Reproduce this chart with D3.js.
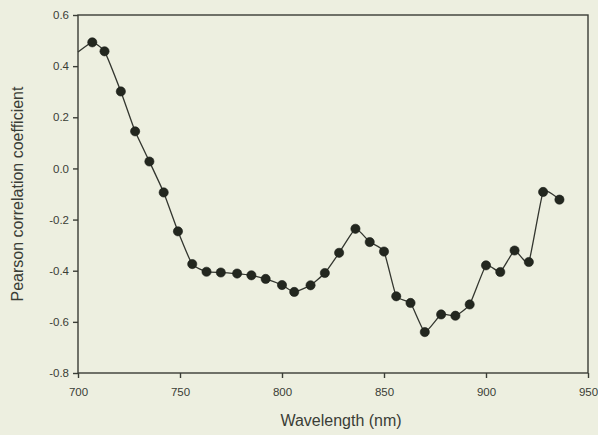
<!DOCTYPE html>
<meta charset="utf-8">
<style>
body { margin: 0; background: #edefe0; }
svg { display: block; background: #edefe0; }
.axis text { font-family: Arial, "Liberation Sans", sans-serif; font-size: 11.5px; fill: #3a3d36; }
.axis path, .axis line { stroke: #3a3d36; stroke-width: 1.4px; }
.title { font-family: Arial, "Liberation Sans", sans-serif; font-size: 16px; fill: #3a3d36; }
</style>
<svg width="598" height="435"></svg>
<script src="https://d3js.org/d3.v7.min.js"></script>
<script>

// wavelength (nm) and Pearson r
var wavelength = [700, 707, 713, 721, 728, 735, 742, 749, 756, 763, 770, 778, 785, 792, 800, 806,
                  814, 821, 828, 836, 843, 850, 856, 863, 870, 878, 885, 892, 900, 907, 914, 921, 928, 936];
var pearson = [0.455, 0.493, 0.458, 0.301, 0.145, 0.027, -0.094, -0.246, -0.374, -0.404, -0.407, -0.411,
               -0.418, -0.432, -0.456, -0.483, -0.457, -0.409, -0.330, -0.236, -0.288, -0.325, -0.500,
               -0.526, -0.640, -0.571, -0.576, -0.532, -0.379, -0.405, -0.321, -0.366, -0.092, -0.122];
var xTicks = [700, 750, 800, 850, 900, 950];
var yTicks = [-0.8, -0.6, -0.4, -0.2, 0.0, 0.2, 0.4, 0.6];

var svg = d3.select('svg'),
    margin = {top: 15, right: 10, bottom: 62, left: 78},
    width = +svg.attr("width"),
    height = +svg.attr("height");

var x = d3.scaleLinear()
    .domain([700, 950])
    .range([margin.left, width - margin.right]);

var y = d3.scaleLinear()
    .domain([-0.8, 0.6])
    .range([height - margin.bottom, margin.top]);

var data = wavelength.map(function(w, i) { return {w: w, r: pearson[i]}; });

// frame
svg.append('rect')
   .attr('x', x(700))
   .attr('y', y(0.6))
   .attr('width', x(950) - x(700))
   .attr('height', y(-0.8) - y(0.6))
   .style('fill', 'none')
   .style('stroke', '#3a3d36')
   .style('stroke-width', 1.4);

svg.append('g')
   .attr('class', 'axis')
   .attr('transform', 'translate(0,' + y(-0.8) + ')')
   .call(d3.axisBottom(x).tickValues(xTicks).tickSize(5).tickPadding(10).tickFormat(d3.format('d')))
   .call(function(g) { g.select('.domain').remove(); });

svg.append('g')
   .attr('class', 'axis')
   .attr('transform', 'translate(' + x(700) + ',0)')
   .call(d3.axisLeft(y).tickValues(yTicks).tickSize(5).tickPadding(4)
           .tickFormat(function(d) { return d.toFixed(1); }))
   .call(function(g) { g.select('.domain').remove(); });

var line = d3.line()
    .x(function(d) { return x(d.w); })
    .y(function(d) { return y(d.r); })
    .curve(d3.curveCardinal.tension(0.55));

svg.append('path')
   .datum(data)
   .attr('d', line)
   .style('fill', 'none')
   .style('stroke', '#33362f')
   .style('stroke-width', 1.3);

// first point is only where the line starts at the axis, no marker there
svg.selectAll('.pt')
   .data(data.slice(1))
   .enter()
   .append('circle')
   .attr('class', 'pt')
   .attr('cx', function(d) { return x(d.w); })
   .attr('cy', function(d) { return y(d.r); })
   .attr('r', 4.6)
   .style('fill', '#23271f')
   .style('stroke', '#1a1c17')
   .style('stroke-width', 0.6);

svg.append('text')
   .attr('class', 'title')
   .attr('text-anchor', 'middle')
   .attr('x', (x(700) + x(950)) / 2 + 8)
   .attr('y', 426)
   .text('Wavelength (nm)');

svg.append('text')
   .attr('class', 'title')
   .attr('text-anchor', 'middle')
   .attr('transform', 'translate(23,' + (y(-0.1)) + ') rotate(-90)')
   .text('Pearson correlation coefficient');

</script>
